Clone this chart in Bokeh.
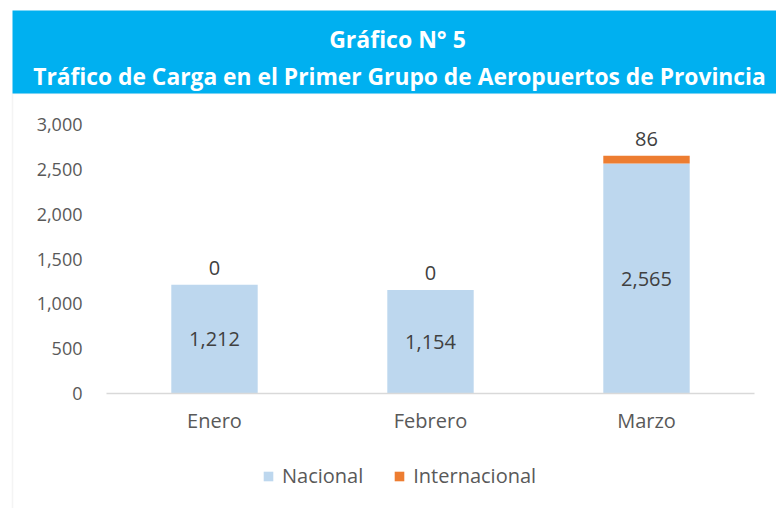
from bokeh.plotting import figure
from bokeh.models import (ColumnDataSource, LabelSet, Label, BoxAnnotation, Legend, LegendItem,
                          FixedTicker, NumeralTickFormatter, Range1d)
from bokeh.core.properties import value
from bokeh.embed import file_html
from bokeh.resources import INLINE

meses = ["Enero", "Febrero", "Marzo"]
nacional = [1212, 1154, 2565]
internacional = [0, 0, 86]
series = ["Nacional", "Internacional"]
y_ticks = [0, 500, 1000, 1500, 2000, 2500, 3000]
titulo1 = "Gráfico N° 5"
titulo2 = "Tráfico de Carga en el Primer Grupo de Aeropuertos de Provincia"

FONT = "Open Sans"
C_NAC = "#BDD7EE"
C_INT = "#ED7D31"
COLORS = [C_NAC, C_INT]
C_BANNER = "#00B0F0"
TXT = "#595959"

W, H = 776, 508
# plot area (page pixels): x 106..754 for the 3 categories, y 124..393 for 0..3000
PL, PR, PT, PB = 106, 754, 124, 393
YMAX = 3000
ncat = len(meses)
xpx = (PR - PL) / ncat          # pixels per category
ypx = (PB - PT) / YMAX          # pixels per unit
x_range = Range1d(-PL / xpx, ncat + (W - PR) / xpx)
y_range = Range1d(-(H - PB) / ypx, YMAX + PT / ypx)

p = figure(x_range=x_range, y_range=y_range, width=W, height=H,
           output_backend="svg", toolbar_location=None, min_border=0)
p.outline_line_color = None
p.xgrid.grid_line_color = None
p.ygrid.grid_line_color = None


def sbox(l, r, t, btm, **kw):
    return BoxAnnotation(left=l, right=r, top=H - t, bottom=H - btm,
                         left_units="screen", right_units="screen",
                         top_units="screen", bottom_units="screen", **kw)


# chart border and title banner
p.add_layout(sbox(12, 800, 93, 600, fill_color=None, fill_alpha=0,
                  line_color="#D9D9D9", line_width=1.5, level="underlay"))
p.add_layout(sbox(12, 800, 10, 93, fill_color=C_BANNER, fill_alpha=1, line_color=None))
p.add_layout(Label(x=397, y=H - 38, x_units="screen", y_units="screen", text=titulo1,
                   text_align="center", text_baseline="middle", text_font=FONT,
                   text_font_style="bold", text_font_size="23px", text_color="white"))
p.add_layout(Label(x=399, y=H - 76, x_units="screen", y_units="screen", text=titulo2,
                   text_align="center", text_baseline="middle", text_font=FONT,
                   text_font_style="bold", text_font_size="22.8px", text_color="white"))

xpos = [i + 0.5 for i in range(ncat)]
src = ColumnDataSource(dict(
    x=xpos, mes=meses, Nacional=nacional, Internacional=internacional,
    nac_mid=[v / 2 for v in nacional],
    top=[a + b for a, b in zip(nacional, internacional)],
    nac_txt=[f"{v:,}" for v in nacional],
    int_txt=[f"{v:,}" for v in internacional],
))

r = p.vbar_stack(series, x="x", width=0.4, color=COLORS, source=src, line_color=None)

p.add_layout(LabelSet(x="x", y="nac_mid", text="nac_txt", source=src, text_align="center",
                      text_baseline="middle", text_font=value(FONT), text_font_size="20px",
                      text_color="#404040"))
p.add_layout(LabelSet(x="x", y="top", text="int_txt", source=src, text_align="center",
                      text_baseline="middle", y_offset=17, text_font=value(FONT),
                      text_font_size="20px", text_color="#404040"))

# axes, drawn at fixed positions inside the canvas
p.yaxis.fixed_location = 0
p.yaxis.ticker = FixedTicker(ticks=y_ticks)
p.yaxis.formatter = NumeralTickFormatter(format="0,0")
p.yaxis.axis_line_color = None
p.yaxis.major_tick_line_color = None
p.yaxis.minor_tick_line_color = None
p.yaxis.major_tick_out = 0
p.yaxis.major_tick_in = 0
p.yaxis.major_label_standoff = 24
p.yaxis.major_label_text_font = FONT
p.yaxis.major_label_text_font_size = "18px"
p.yaxis.major_label_text_color = TXT

p.xaxis.fixed_location = 0
p.xaxis.bounds = (0, ncat)
p.xaxis.ticker = FixedTicker(ticks=xpos)
p.xaxis.major_label_overrides = {x: m for x, m in zip(xpos, meses)}
p.xaxis.axis_line_color = "#D9D9D9"
p.xaxis.axis_line_width = 1.5
p.xaxis.major_tick_line_color = None
p.xaxis.minor_tick_line_color = None
p.xaxis.major_tick_out = 0
p.xaxis.major_tick_in = 0
p.xaxis.major_label_standoff = 13
p.xaxis.major_label_text_font = FONT
p.xaxis.major_label_text_font_size = "20px"
p.xaxis.major_label_text_color = TXT

legend = Legend(items=[LegendItem(label=s, renderers=[rr]) for s, rr in zip(series, r)],
                orientation="horizontal", location=(262, H - 489), padding=0, margin=0,
                glyph_width=12, glyph_height=12, label_height=20, label_standoff=8,
                spacing=30, label_text_font=FONT, label_text_font_size="20px",
                label_text_color=TXT, border_line_color=None, background_fill_alpha=0)
p.add_layout(legend, "center")

open("out.html", "w").write(file_html(p, INLINE))
